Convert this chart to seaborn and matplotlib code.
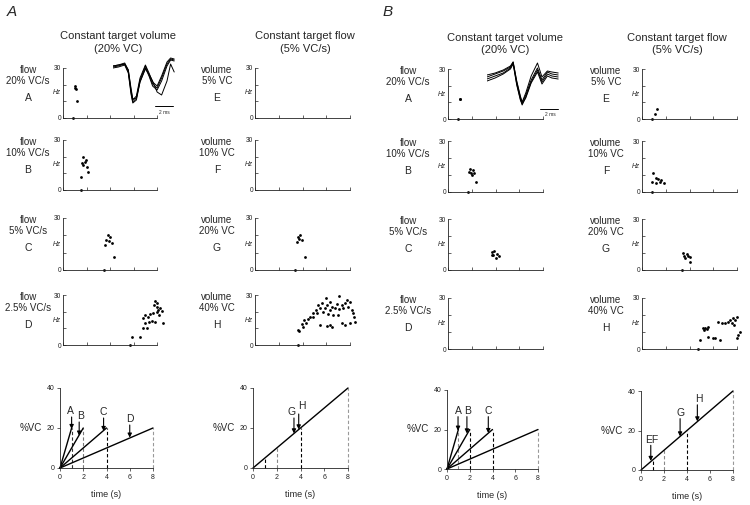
import matplotlib
matplotlib.use("Agg")
import matplotlib.pyplot as plt
import pandas as pd
import seaborn as sns

# ---------------------------------------------------------------- data
# discharge frequency (Hz) vs time (s); first entry of each list = onset (0 Hz)
# Panel A, constant target volume (20% VC), flows A-D
A_vol_A_t = [0.85, 1.00, 1.05, 1.10, 1.20]
A_vol_A_hz = [0, 19.0, 18.0, 17.2, 10.2]
A_vol_B_t = [1.53, 1.70, 1.62, 1.87, 2.04, 1.70, 2.13, 1.53, 1.96]
A_vol_B_hz = [0, 19.8, 16.2, 16.8, 13.8, 15.0, 10.8, 7.8, 18.0]
A_vol_C_t = [3.49, 3.83, 3.66, 4.00, 3.57, 4.17, 3.90, 4.34]
A_vol_C_hz = [0, 20.2, 17.3, 19.0, 14.4, 15.6, 16.7, 7.5]
A_vol_D_t = [5.70, 5.87, 6.55, 7.83, 8.03, 8.11, 8.26, 8.40, 7.97, 7.69, 7.40, 6.98,
             7.26, 6.83, 7.55, 7.34, 7.83, 8.49, 6.98, 6.83, 7.17, 8.00, 7.74, 8.17]
A_vol_D_hz = [0, 4.8, 4.8, 26.6, 23.0, 21.0, 22.0, 20.4, 19.6, 19.0, 18.4, 18.0,
              17.0, 16.0, 14.4, 14.0, 14.0, 13.0, 13.0, 10.0, 10.0, 25.2, 24.0, 18.0]
# Panel A, constant target flow (5% VC/s), volumes E-H
A_flow_E_t, A_flow_E_hz = [], []
A_flow_F_t, A_flow_F_hz = [], []
A_flow_G_t = [3.37, 3.62, 3.79, 3.54, 3.96, 3.70, 4.21]
A_flow_G_hz = [0, 19.0, 20.2, 16.2, 17.3, 17.9, 7.5]
A_flow_H_t = [3.62, 5.98, 7.07, 7.72, 8.00, 6.32, 5.62, 5.33, 6.04, 6.46, 6.88, 7.30, 7.58,
              7.86, 5.47, 5.89, 5.14, 6.32, 6.74, 7.10, 7.44, 8.14, 4.91, 5.25, 5.75,
              6.17, 6.60, 7.02, 8.28, 8.34, 4.63, 4.91, 4.49, 4.13, 4.29, 3.93, 4.01,
              3.73, 3.65, 5.47, 6.04, 6.32, 6.46, 7.30, 7.58, 8.00, 8.42]
A_flow_H_hz = [0, 28.4, 29.4, 27.0, 26.0, 26.0, 25.0, 24.0, 24.0, 23.0, 24.4, 24.0, 25.0,
               23.0, 22.0, 22.0, 21.0, 21.0, 22.0, 21.6, 22.4, 21.0, 19.0, 19.0, 19.6,
               18.4, 18.0, 18.0, 19.0, 17.0, 17.0, 17.0, 15.6, 15.0, 13.0, 12.4, 11.0,
               8.4, 9.0, 12.0, 11.6, 12.0, 11.0, 13.0, 12.0, 13.0, 14.0]
# Panel B
B_vol_A_t = [0.84, 1.00, 1.04]
B_vol_A_hz = [0, 12.0, 12.3]
B_vol_B_t = [1.71, 1.85, 2.13, 1.77, 2.21, 2.00, 1.94, 2.36]
B_vol_B_hz = [0, 13.4, 12.9, 11.9, 11.4, 10.0, 11.0, 5.7]
B_vol_C_t = [3.70, 3.87, 4.13, 3.79, 4.29, 4.04, 3.70]
B_vol_C_hz = [10.6, 11.2, 9.4, 8.8, 8.2, 7.0, 9.1]
B_vol_D_t, B_vol_D_hz = [], []
B_flow_E_t = [0.82, 1.09, 1.24]
B_flow_E_hz = [0, 2.8, 5.8]
B_flow_F_t = [0.87, 0.95, 1.15, 1.35, 1.57, 1.15, 1.52, 1.85, 0.87]
B_flow_F_hz = [0, 11.0, 8.1, 7.5, 7.1, 5.1, 6.1, 5.1, 5.6]
B_flow_G_t = [3.34, 3.48, 3.76, 4.04, 3.62, 3.90, 4.04, 3.54]
B_flow_G_hz = [0, 9.8, 9.4, 7.8, 6.9, 8.2, 4.9, 8.5]
B_flow_H_t = [4.74, 5.16, 5.31, 5.58, 5.45, 5.22, 6.43, 6.71, 6.99, 7.27, 7.41, 7.55, 7.69,
              7.83, 7.97, 7.75, 5.58, 4.88, 6.00, 6.15, 6.57, 8.11, 8.25, 7.97]
B_flow_H_hz = [0, 12.2, 12.5, 13.1, 11.8, 10.9, 16.1, 15.1, 15.1, 16.1, 17.1, 15.1, 18.1,
               17.1, 19.0, 14.1, 7.2, 5.3, 6.6, 6.3, 5.3, 8.2, 10.2, 6.6]

# action-potential insets (time in ms, amplitude arbitrary)
insA_ms = [0, 0.6, 1.3, 1.7, 2.0, 2.2, 2.6, 3.0, 3.6, 4.0, 4.4, 4.9, 5.4, 6.0, 6.4, 6.8]
insA_tr1 = [39, 40, 42, 34, 14, 4, 8, 26, 40, 31, 22, 18, 28, 42, 47, 46]
insA_tr2 = [40, 41, 43, 36, 16, 6, 10, 28, 41, 33, 24, 20, 30, 44, 48, 47]
insA_tr3 = [38, 39, 41, 33, 12, 3, 6, 24, 38, 30, 20, 16, 25, 40, 46, 45]
insA_tr4 = [40, 41, 42, 36, 18, 7, 8, 24, 37, 32, 25, 14, 11, 25, 42, 34]
insB_ms = [0, 0.9, 1.8, 2.6, 2.9, 3.3, 3.7, 3.9, 4.3, 4.9, 5.6, 6.1, 6.7, 7.2, 7.9]
insB_tr1 = [32, 35, 38, 42, 47, 27, 12, 6, 14, 29, 41, 29, 37, 35, 34]
insB_tr2 = [30, 33, 36, 41, 46, 25, 10, 4, 12, 27, 39, 27, 35, 33, 32]
insB_tr3 = [34, 36, 39, 43, 47, 28, 13, 7, 16, 33, 46, 32, 38, 37, 36]
insB_tr4 = [28, 31, 35, 40, 45, 24, 9, 5, 11, 26, 37, 25, 33, 31, 30]

# ramp protocols (%VC vs time)
vol_ramp_end_t = [1, 2, 4, 8]        # flows 20, 10, 5, 2.5 %VC/s to 20 %VC
vol_ramp_end_v = [20, 20, 20, 20]
flow_ramp_t = [0, 8]                 # 5 %VC/s
flow_ramp_v = [0, 40]
flow_stop_t = [1, 2, 4, 8]           # volumes 5, 10, 20, 40 %VC
flow_stop_v = [5, 10, 20, 40]

vol_row_labels = [("flow", "20% VC/s", "A"), ("flow", "10% VC/s", "B"),
                  ("flow", "5% VC/s", "C"), ("flow", "2.5% VC/s", "D")]
flow_row_labels = [("volume", "5% VC", "E"), ("volume", "10% VC", "F"),
                   ("volume", "20% VC", "G"), ("volume", "40% VC", "H")]

# arrows: (label, x, tail, tip, label dx, label dy)
A_vol_arrows = [("A", 1.0, 25.5, 19.5, -0.1, 0), ("B", 1.65, 23.0, 16.2, 0.1, 0),
                ("C", 3.75, 25.0, 18.5, 0, 0), ("D", 6.0, 21.5, 15.2, 0, 0)]
A_flow_arrows = [("G", 3.45, 25.0, 17.3, -0.2, 0), ("H", 3.85, 27.0, 19.3, 0.25, 1.0)]
B_vol_arrows = [("A", 0.97, 26.5, 19.4, 0, 0), ("B", 1.75, 26.5, 18.0, 0.1, 0),
                ("C", 3.63, 26.5, 18.2, 0, 0)]
B_flow_arrows = [("EF", 0.85, 12.5, 4.6, 0.1, 0), ("G", 3.4, 26.0, 17.0, 0, 0),
                 ("H", 4.9, 33.0, 24.6, 0.1, 0)]

# ---------------------------------------------------------------- style
sns.set_theme(style="ticks")
plt.rcParams['font.family'] = ['Liberation Sans', 'DejaVu Sans']
plt.rcParams['axes.linewidth'] = 0.6
plt.rcParams['axes.edgecolor'] = '#222222'

W, H = 750, 505
fig = plt.figure(figsize=(7.5, 5.05), dpi=100)
fig.patch.set_facecolor('white')


def box(l, t, r, b):
    return [l / W, 1 - b / H, (r - l) / W, (b - t) / H]


def ftext(x, y, s, **kw):
    fig.text(x / W, 1 - y / H, s, **kw)


def line(ax, xs, ys, **kw):
    sns.lineplot(x=xs, y=ys, ax=ax, estimator=None, sort=False, legend=False, **kw)


def scatter_panel(l, r, t, b, xs, ys):
    ax = fig.add_axes(box(l, t, r, b))
    if len(xs):
        sns.scatterplot(x=xs, y=ys, ax=ax, color='black', s=4, linewidth=0,
                        clip_on=False, legend=False)
    ax.set_xlim(0, 8)
    ax.set_ylim(0, 30)
    ax.set_xticks([0, 2, 4, 6, 8])
    ax.set_xticklabels([])
    ax.set_yticks([0, 10, 20, 30])
    ax.set_yticklabels(['0', '', '', '30'])
    ax.tick_params(direction='in', length=2, width=0.5, labelsize=4.8, pad=1.5,
                   colors='#222222')
    for s in ['top', 'right']:
        ax.spines[s].set_visible(False)
    ax.set_xlabel('')
    ax.set_ylabel('')
    ax.text(-2.0 / (r - l), 15, 'Hz', transform=ax.get_yaxis_transform(),
            ha='right', va='center', fontsize=4.8, style='italic')
    ax.set_facecolor('none')
    return ax


def row_label(x, top, lab):
    ftext(x, top + 2, lab[0], ha='center', va='center', fontsize=7)
    ftext(x, top + 13, lab[1], ha='center', va='center', fontsize=7)
    ftext(x, top + 30, lab[2], ha='center', va='center', fontsize=7.5)


def ramp_panel(l, r, t, b, kind, arrows, dash_cols):
    ax = fig.add_axes(box(l, t, r, b))
    if kind == 'vol':
        ends_t, ends_v = vol_ramp_end_t, vol_ramp_end_v
    else:
        ends_t, ends_v = flow_stop_t, flow_stop_v
    for et, ev, c in zip(ends_t, ends_v, dash_cols):
        line(ax, [et, et], [0, ev], color=c, lw=0.8, linestyle=(0, (3, 2)),
             clip_on=False)
    if kind == 'vol':
        for et, ev in zip(vol_ramp_end_t, vol_ramp_end_v):
            line(ax, [0, et], [0, ev], color='black', lw=1.0, clip_on=False)
    else:
        line(ax, flow_ramp_t, flow_ramp_v, color='black', lw=1.0, clip_on=False)
    for lab, x, tail, tip, dx, dy in arrows:
        ax.annotate('', xy=(x, tip), xytext=(x, tail),
                    arrowprops=dict(arrowstyle='-|>', color='black', lw=0.8,
                                    mutation_scale=6, shrinkA=0, shrinkB=0))
        ax.text(x + dx, tail + 0.3 + dy, lab, ha='center', va='bottom', fontsize=7.5)
    ax.set_xlim(0, 8)
    ax.set_ylim(0, 40)
    ax.set_xticks([0, 2, 4, 6, 8])
    ax.set_yticks([0, 20, 40])
    ax.tick_params(direction='out', length=2, width=0.5, labelsize=5, pad=2,
                   colors='#222222')
    for s in ['top', 'right']:
        ax.spines[s].set_visible(False)
    ax.set_xlabel('time (s)', fontsize=6.5, labelpad=7)
    ax.set_ylabel('')
    ax.text(-18.0 / (r - l), 20, '%VC', transform=ax.get_yaxis_transform(),
            ha='right', va='center', fontsize=7)
    return ax


def inset(l, t, r, b, ms, traces, xl, yl, bar_x0, bar_y, txt_xy):
    ax = fig.add_axes(box(l, t, r, b))
    for tr in traces:
        line(ax, ms, tr, color='black', lw=0.7)
    line(ax, [bar_x0, bar_x0 + 2], [bar_y, bar_y], color='black', lw=0.7)
    ax.text(txt_xy[0], txt_xy[1], '2 ms', ha='center', va='center', fontsize=3.5)
    ax.set_xlim(*xl)
    ax.set_ylim(*yl)
    ax.axis('off')
    ax.set_facecolor('none')


# ---------------------------------------------------------------- panel A
ftext(12, 12, 'A', fontsize=11, style='italic', ha='center', va='center')
ftext(118, 36, 'Constant target volume', fontsize=8, ha='center', va='center')
ftext(118, 49, '(20% VC)', fontsize=8, ha='center', va='center')
ftext(305, 36, 'Constant target flow', fontsize=8, ha='center', va='center')
ftext(305, 49, '(5% VC/s)', fontsize=8, ha='center', va='center')

A_rows = [(68, 118), (140, 190), (218, 270), (295, 345)]
A_vol = [(A_vol_A_t, A_vol_A_hz), (A_vol_B_t, A_vol_B_hz), (A_vol_C_t, A_vol_C_hz),
         (A_vol_D_t, A_vol_D_hz)]
A_flow = [(A_flow_E_t, A_flow_E_hz), (A_flow_F_t, A_flow_F_hz),
          (A_flow_G_t, A_flow_G_hz), (A_flow_H_t, A_flow_H_hz)]
for i, (t, b) in enumerate(A_rows):
    scatter_panel(63, 157, t, b, *A_vol[i])
    scatter_panel(255, 350, t, b, *A_flow[i])
    row_label(28, t, vol_row_labels[i])
    row_label(217, t, flow_row_labels[i])

inset(113, 56, 176, 114, insA_ms, [insA_tr1, insA_tr2, insA_tr3, insA_tr4],
      (0, 7), (-8, 50), 4.7, 0, (5.7, -6))

ramp_panel(60, 153, 388, 468, 'vol', A_vol_arrows,
           ['#333333', '#777777', 'black', '#999999'])
ramp_panel(253, 348, 388, 468, 'flow', A_flow_arrows,
           ['black', '#888888', 'black', '#999999'])

# ---------------------------------------------------------------- panel B
ftext(388, 12, 'B', fontsize=11, style='italic', ha='center', va='center')
ftext(505, 38, 'Constant target volume', fontsize=8, ha='center', va='center')
ftext(505, 50, '(20% VC)', fontsize=8, ha='center', va='center')
ftext(677, 38, 'Constant target flow', fontsize=8, ha='center', va='center')
ftext(677, 50, '(5% VC/s)', fontsize=8, ha='center', va='center')

B_rows = [(69, 119), (141, 192), (219, 270), (298, 349)]
B_vol = [(B_vol_A_t, B_vol_A_hz), (B_vol_B_t, B_vol_B_hz), (B_vol_C_t, B_vol_C_hz),
         (B_vol_D_t, B_vol_D_hz)]
B_flow = [(B_flow_E_t, B_flow_E_hz), (B_flow_F_t, B_flow_F_hz),
          (B_flow_G_t, B_flow_G_hz), (B_flow_H_t, B_flow_H_hz)]
for i, (t, b) in enumerate(B_rows):
    scatter_panel(448, 543, t, b, *B_vol[i])
    scatter_panel(642, 737, t, b, *B_flow[i])
    row_label(408, t, vol_row_labels[i])
    row_label(606, t, flow_row_labels[i])

inset(487, 56, 560, 117, insB_ms, [insB_tr1, insB_tr2, insB_tr3, insB_tr4],
      (0, 8.1), (-8, 53), 5.9, 0, (7.0, -5))

ramp_panel(447, 538, 390, 469, 'vol', B_vol_arrows,
           ['#888888', 'black', 'black', '#999999'])
ramp_panel(641, 733, 391, 470, 'flow', B_flow_arrows,
           ['black', '#888888', 'black', '#999999'])

fig.savefig('out.png', dpi=100, facecolor='white')
